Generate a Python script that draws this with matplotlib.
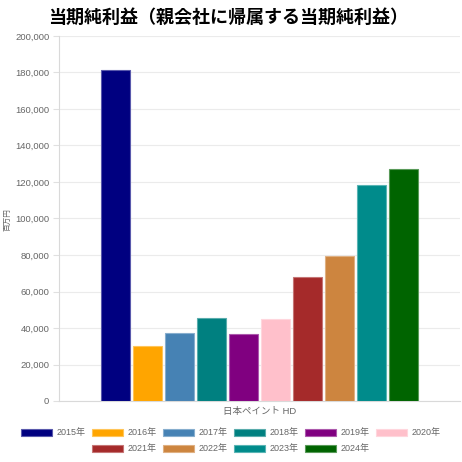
import numpy as np
import matplotlib
matplotlib.use("Agg")
from matplotlib import pyplot as plt
from matplotlib.patches import Patch
from matplotlib.ticker import FuncFormatter
from matplotlib.colors import to_rgb

plt.rcParams['font.family'] = ['Liberation Sans', 'Noto Sans CJK JP', 'DejaVu Sans']

years = ['2015年', '2016年', '2017年', '2018年', '2019年',
         '2020年', '2021年', '2022年', '2023年', '2024年']
profits = [181600, 30100, 37300, 45400, 36700, 44900, 67800, 79500, 118400, 127200]
colors = ['#000080', '#FFA500', '#4682B4', '#008080', '#800080',
          '#FFC0CB', '#A52A2A', '#CD853F', '#008B8B', '#006400']
company = '日本ペイント HD'


def lighten(c, amount=0.35):
    r, g, b = to_rgb(c)
    return (r + (1 - r) * amount, g + (1 - g) * amount, b + (1 - b) * amount)


fig = plt.figure(figsize=(4.62, 4.62), dpi=100)
ax = fig.add_axes([59 / 462, 1 - 401 / 462, 401 / 462, 365 / 462])

# barras agrupadas dentro de una sola categoria
n = len(years)
group_w = 0.8
slot = group_w / n
x = -group_w / 2 + slot / 2 + np.arange(n) * slot
ax.bar(x, profits, width=slot * 0.9, color=colors,
       edgecolor=[lighten(c) for c in colors], linewidth=0.8, zorder=3)

ax.set_xlim(-0.5, 0.5)
ax.set_ylim(0, 200000)
ax.set_yticks(np.arange(0, 200001, 20000))
ax.yaxis.set_major_formatter(FuncFormatter(lambda v, p: f'{int(v):,}'))
ax.set_xticks([0])
ax.set_xticklabels([company])
ax.tick_params(axis='x', length=0, labelsize=6.8, labelcolor='#666666', pad=4)
ax.tick_params(axis='y', length=4, color='#e0e0e0', labelsize=6.8,
               labelcolor='#666666', pad=3)
ax.grid(axis='y', color='#ebebeb', linewidth=0.8, zorder=0)
for side in ['top', 'right']:
    ax.spines[side].set_visible(False)
for side in ['left', 'bottom']:
    ax.spines[side].set_color('#d9d9d9')

fig.text(8 / 462, 1 - 220 / 462, '百万円', rotation=90, fontsize=5.5,
         color='#666666', ha='center', va='center')
fig.text(228 / 462, 1 - 17 / 462, '当期純利益（親会社に帰属する当期純利益）',
         fontsize=13, fontweight='bold', ha='center', va='center',
         family=['Noto Sans CJK JP', 'DejaVu Sans'])

# leyenda en dos filas centradas
handles = [Patch(facecolor=c, edgecolor=lighten(c), linewidth=0.8) for c in colors]
common = dict(frameon=False, fontsize=6.5, handlelength=3.4, handleheight=0.9,
              columnspacing=0.75, handletextpad=0.5, labelcolor='#666666',
              loc='center')
fig.legend(handles[:6], years[:6], ncol=6,
           bbox_to_anchor=(0.5, 1 - 433 / 462), **common)
fig.legend(handles[6:], years[6:], ncol=4,
           bbox_to_anchor=(0.5, 1 - 449 / 462), **common)

plt.savefig('out.png', dpi=100)
plt.close()
